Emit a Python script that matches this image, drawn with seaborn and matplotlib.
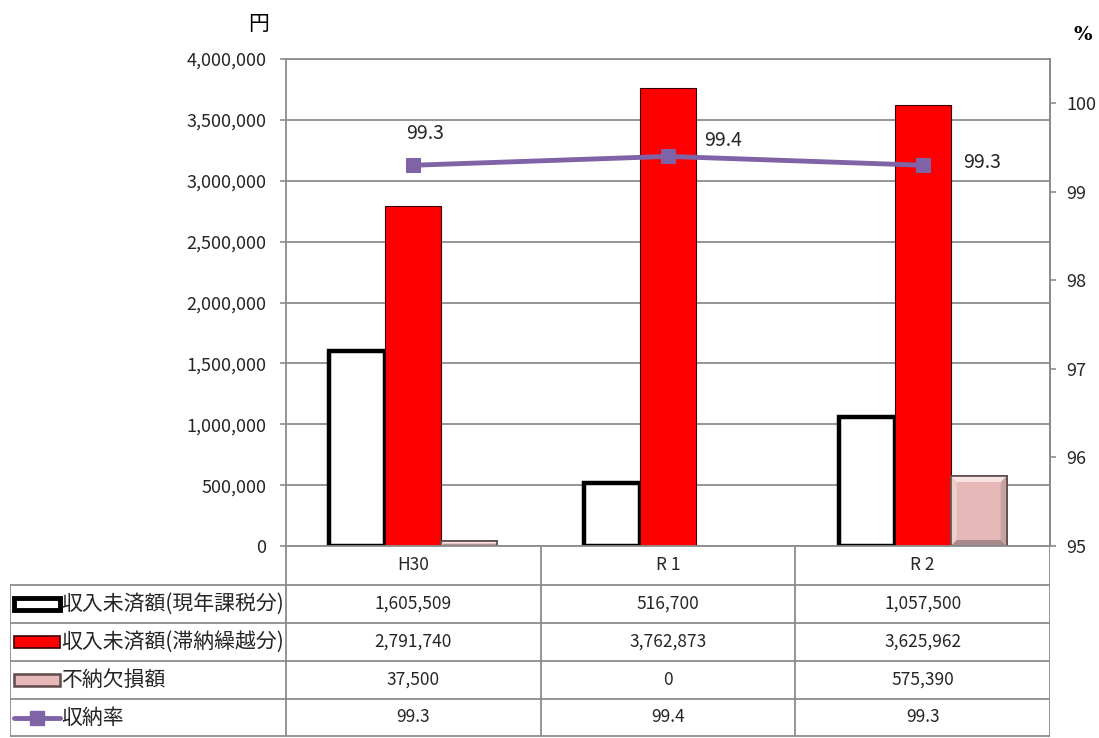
import numpy as np
import pandas as pd
import matplotlib
matplotlib.use("Agg")
import matplotlib.pyplot as plt
from matplotlib.patches import Rectangle, Polygon
from matplotlib.lines import Line2D
from matplotlib.ticker import FuncFormatter
import seaborn as sns

# ---- data -------------------------------------------------------------
categories = ["H30", "R 1", "R 2"]
genen = [1605509, 516700, 1057500]          # 収入未済額(現年課税分)
taino = [2791740, 3762873, 3625962]         # 収入未済額(滞納繰越分)
funo = [37500, 0, 575390]                   # 不納欠損額
rate = [99.3, 99.4, 99.3]                   # 収納率
series_names = ["収入未済額(現年課税分)", "収入未済額(滞納繰越分)", "不納欠損額", "収納率"]
yen_ticks = [0, 500000, 1000000, 1500000, 2000000, 2500000, 3000000, 3500000, 4000000]
pct_ticks = [95, 96, 97, 98, 99, 100]

# ---- style ------------------------------------------------------------
sns.set_theme(style="white")
plt.rcParams["font.family"] = ["Noto Sans CJK JP", "DejaVu Sans"]
GRID = "#8c8c8c"
TXT = "#262626"
PURPLE = "#7f63a6"
PINK = "#e6b9b8"

W, H = 1099, 738
fig = plt.figure(figsize=(W / 100, H / 100), dpi=100)
fig.patch.set_facecolor("white")


def fx(px):
    return px / W


def fy(py):
    return 1 - py / H


left, right, top, bottom = 286, 1050, 59, 546
ax = fig.add_axes([fx(left), fy(bottom), (right - left) / W, (bottom - top) / H])

df = pd.DataFrame({
    "区分": categories * 3,
    "系列": [series_names[0]] * 3 + [series_names[1]] * 3 + [series_names[2]] * 3,
    "金額": genen + taino + funo,
})
sns.barplot(data=df, x="区分", y="金額", hue="系列", order=categories,
            hue_order=series_names[:3], width=0.66, gap=0, dodge=True,
            legend=False, ax=ax, palette=["white", "#ff0000", PINK],
            saturation=1, errorbar=None)

ax.set_xlim(-0.5, 2.5)
ax.set_ylim(0, 4000000)
ax.set_yticks(yen_ticks)
ax.yaxis.set_major_formatter(FuncFormatter(lambda v, _: f"{int(v):,}"))
ax.set_xlabel("")
ax.set_ylabel("")
ax.tick_params(axis="x", length=0, labelbottom=False)
ax.tick_params(axis="y", length=4, width=1.2, color=GRID, labelsize=13,
               labelcolor=TXT, pad=10, direction="out", left=True)
ax.yaxis.grid(True, color=GRID, lw=1.3)
ax.set_axisbelow(True)
for s in ax.spines.values():
    s.set_color(GRID)
    s.set_linewidth(1.3)

bar_styles = [
    dict(facecolor="white", edgecolor="black", linewidth=3.2),
    dict(facecolor="#ff0000", edgecolor="#3a0000", linewidth=0.8),
    dict(facecolor=PINK, edgecolor="#5f4b4b", linewidth=1.2),
]
for cont, st in zip(ax.containers, bar_styles):
    for p in cont.patches:
        p.set(**st)
        if p.get_height() == 0:
            p.set_visible(False)


def bevel(patch, depth=6):
    """Shade the rim of a bar so it looks raised."""
    x0, y0 = patch.get_x(), patch.get_y()
    w, h = patch.get_width(), patch.get_height()
    if h <= 0:
        return
    t = ax.transData
    X0, Y0 = t.transform((x0, y0))
    X1, Y1 = t.transform((x0 + w, y0 + h))
    b = min(depth, (Y1 - Y0) / 2.5, (X1 - X0) / 2.5)
    outer = [(X0, Y0), (X1, Y0), (X1, Y1), (X0, Y1)]
    inner = [(X0 + b, Y0 + b), (X1 - b, Y0 + b), (X1 - b, Y1 - b), (X0 + b, Y1 - b)]
    inv = t.inverted()
    faces = [((0, 1), "#a98a8a"), ((1, 2), "#c7a2a2"), ((2, 3), "#f8e4e4"), ((3, 0), "#efcdcd")]
    for (i, j), c in faces:
        pts = inv.transform([outer[i], outer[j], inner[j], inner[i]])
        ax.add_patch(Polygon(pts, closed=True, facecolor=c, edgecolor="none", zorder=patch.get_zorder() + 0.1))
    ax.add_patch(Rectangle((x0, y0), w, h, facecolor="none", edgecolor="#5f4b4b",
                           linewidth=1.2, zorder=patch.get_zorder() + 0.2))


for p in ax.containers[2].patches:
    bevel(p)

# ---- collection rate on the secondary axis ----------------------------
ax2 = ax.twinx()
rate_df = pd.DataFrame({"区分": categories, "収納率": rate})
sns.lineplot(data=rate_df, x="区分", y="収納率", sort=False, ax=ax2, color=PURPLE,
             lw=3.5, marker="s", markersize=10, markeredgecolor=PURPLE)
ax2.set_xlim(-0.5, 2.5)
ax2.set_ylim(95, 100.5)
ax2.set_yticks(pct_ticks)
ax2.set_xlabel("")
ax2.set_ylabel("")
ax2.grid(False)
ax2.tick_params(axis="y", length=4, width=1.2, color=GRID, labelsize=13,
                labelcolor=TXT, pad=8, direction="out", right=True)
for s in ax2.spines.values():
    s.set_visible(False)
ax2.spines["right"].set_visible(True)
ax2.spines["right"].set_color(GRID)
ax2.spines["right"].set_linewidth(1.3)

label_offsets = [(12, 32), (55, 16), (59, 3)]
for i, (v, off) in enumerate(zip(rate, label_offsets)):
    ax2.annotate(f"{v:.1f}", (i, v), xytext=off, textcoords="offset pixels",
                 ha="center", va="center", fontsize=14, color=TXT)

# ---- unit labels ------------------------------------------------------
fig.text(fx(259), fy(24), "円", ha="center", va="center", fontsize=15, color="black")
fig.text(fx(1083), fy(35), "%", ha="center", va="center", fontsize=14, color="black",
         family=["DejaVu Serif"], fontweight="bold")

# ---- data table -------------------------------------------------------
tab_left = 10
col_px = (right - left) / 3
x_left = -0.5 - (left - tab_left) / col_px
axt = fig.add_axes([fx(tab_left), 0, (right - tab_left) / W, (H - bottom) / H])
axt.set_xlim(x_left, 2.5)
axt.set_ylim(H - bottom, 0)
axt.axis("off")

row_edges = [0, 39, 77, 115, 153, 190]
lw_t = 1.3
for yb in row_edges[1:]:
    axt.plot([x_left, 2.5], [yb, yb], color=GRID, lw=lw_t, solid_capstyle="butt")
for xb in [-0.5, 0.5, 1.5, 2.5]:
    axt.plot([xb, xb], [0, row_edges[-1]], color=GRID, lw=lw_t, solid_capstyle="butt")
axt.plot([x_left, x_left], [row_edges[1], row_edges[-1]], color=GRID, lw=lw_t)

for i, c in enumerate(categories):
    axt.text(i, (row_edges[0] + row_edges[1]) / 2, c, ha="center", va="center",
             fontsize=12.5, color=TXT)

rows = [
    [f"{v:,}" for v in genen],
    [f"{v:,}" for v in taino],
    [f"{v:,}" for v in funo],
    [f"{v:.1f}" for v in rate],
]
for r, vals in enumerate(rows):
    yc = (row_edges[r + 1] + row_edges[r + 2]) / 2
    for i, s in enumerate(vals):
        axt.text(i, yc, s, ha="center", va="center", fontsize=12.5, color=TXT)
    axt.text(x_left + 51 / col_px, yc, series_names[r], ha="left", va="center",
             fontsize=15, color=TXT)

# legend keys
kx0 = x_left + 4 / col_px
kx1 = x_left + 50 / col_px
key_h = 12
key_styles = [
    dict(facecolor="white", edgecolor="black", linewidth=3.5),
    dict(facecolor="#ff0000", edgecolor="#3a0000", linewidth=1.2),
    dict(facecolor=PINK, edgecolor="#5f4b4b", linewidth=1.8),
]
for r, st in enumerate(key_styles):
    yc = (row_edges[r + 1] + row_edges[r + 2]) / 2
    axt.add_patch(Rectangle((kx0, yc - key_h / 2), kx1 - kx0, key_h, **st))
yc = (row_edges[4] + row_edges[5]) / 2
axt.add_line(Line2D([kx0, kx1], [yc, yc], color=PURPLE, lw=3.5))
axt.add_line(Line2D([(kx0 + kx1) / 2], [yc], color=PURPLE, marker="s", markersize=10))

fig.savefig("out.png", dpi=100, facecolor="white")
